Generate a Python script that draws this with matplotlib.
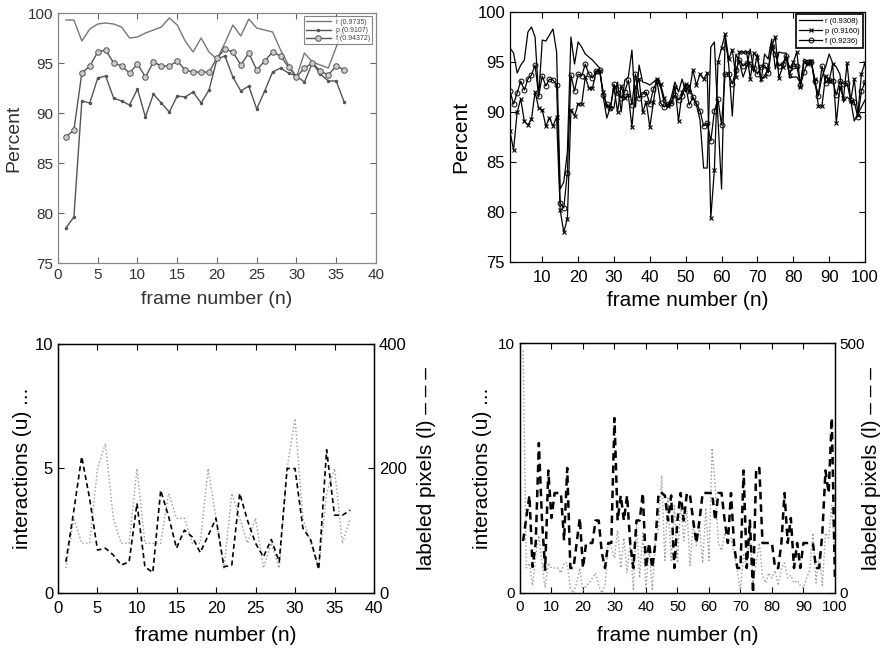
import numpy as np
import matplotlib
matplotlib.use("Agg")
import matplotlib.pyplot as plt

plt.rcParams['font.family'] = ['Liberation Sans', 'DejaVu Sans']

# ---- top left: r / p / f per frame (36 frames) ----
tl_frames = list(range(1, 37))
tl_r = [99.3, 99.3, 97.2, 98.4, 98.9, 99.0, 98.9, 98.6, 97.5, 97.6, 98.0, 98.3,
        98.6, 99.5, 98.8, 97.2, 96.1, 97.5, 96.1, 95.4, 97.0, 98.8, 97.7, 99.4,
        98.5, 98.3, 98.1, 96.3, 94.8, 93.6, 96.0, 95.1, 94.8, 94.5, 96.6, 98.8]
tl_p = [78.5, 79.6, 91.2, 91.0, 93.5, 93.7, 91.5, 91.2, 90.8, 92.4, 89.6, 91.9,
        91.0, 90.1, 91.7, 91.6, 92.1, 91.0, 92.3, 95.4, 95.7, 93.6, 92.2, 92.7,
        90.4, 92.2, 94.1, 94.5, 94.0, 93.7, 93.1, 95.0, 93.9, 93.2, 93.2, 91.1]
tl_f = [87.6, 88.3, 94.0, 94.7, 96.1, 96.3, 95.0, 94.7, 94.0, 94.9, 93.6, 95.1,
        94.7, 94.7, 95.2, 94.3, 94.1, 94.1, 94.1, 95.5, 96.4, 96.1, 94.8, 96.0,
        94.3, 95.2, 96.1, 95.7, 94.6, 93.6, 94.5, 95.0, 94.2, 93.8, 94.7, 94.3]
tl_labels = ['r (0.9735)', 'p (0.9107)', 'f (0.94372)']

# ---- top right: r / p / f per frame (100 frames) ----
tr_frames = list(range(1, 101))
tr_r = [96.4, 95.9, 93.9, 94.7, 95.2, 98.0, 98.5, 97.5, 91.5, 97.2,
        97.1, 97.7, 98.3, 96.0, 82.3, 83.0, 86.0, 97.5, 94.8, 97.0,
        96.5, 95.8, 95.5, 95.2, 94.8, 94.4, 91.5, 89.4, 90.5, 90.4,
        93.0, 90.0, 93.2, 93.5, 96.2, 90.5, 94.7, 93.0, 92.9, 92.7,
        93.0, 93.3, 92.5, 91.0, 90.5, 91.5, 93.0, 92.0, 93.3, 92.0,
        92.7, 91.5, 90.7, 89.2, 84.4, 84.4, 96.5, 97.0, 89.3, 82.3,
        97.5, 94.7, 89.6, 95.8, 95.0, 93.5, 94.5, 96.3, 94.0, 95.8,
        93.0, 95.8, 95.3, 97.3, 94.3, 96.0, 95.9, 95.9, 93.4, 93.5,
        93.5, 92.9, 95.3, 95.1, 95.2, 92.8, 91.7, 93.5, 94.5, 95.8,
        94.9, 94.5, 93.8, 91.0, 91.5, 91.2, 89.1, 89.8, 90.5, 91.2]
tr_p = [88.1, 86.2, 90.0, 91.3, 89.1, 88.7, 89.3, 92.0, 90.4, 90.2,
        88.6, 89.4, 88.6, 89.5, 80.2, 78.0, 79.3, 90.2, 89.6, 90.8,
        90.8, 93.5, 92.4, 92.4, 94.0, 94.1, 92.0, 90.6, 90.4, 92.5,
        90.0, 92.6, 91.4, 91.7, 88.5, 92.5, 93.3, 90.0, 91.0, 88.5,
        91.0, 93.3, 92.8, 91.4, 90.6, 91.0, 92.5, 89.1, 92.0, 92.8,
        92.0, 94.2, 92.7, 93.8, 93.3, 93.9, 79.4, 84.2, 95.0, 96.4,
        97.8, 95.3, 96.2, 93.5, 96.0, 96.0, 96.0, 93.3, 95.9, 95.5,
        93.3, 93.6, 94.3, 96.6, 97.5, 93.4, 94.5, 95.4, 93.7, 95.0,
        96.0, 92.5, 95.0, 94.8, 95.1, 93.3, 90.6, 90.6, 93.6, 93.1,
        94.8, 88.9, 92.5, 91.4, 94.9, 91.1, 93.3, 89.7, 93.8, 94.9]
tr_f = [92.1, 90.8, 91.9, 93.1, 92.2, 93.3, 93.7, 94.7, 91.6, 93.6,
        92.6, 93.3, 93.2, 92.7, 80.9, 80.4, 83.9, 93.7, 92.1, 93.8,
        93.6, 94.8, 93.8, 93.4, 94.1, 94.2, 91.7, 90.8, 90.4, 92.8,
        91.9, 91.4, 92.0, 93.2, 90.7, 93.8, 91.4, 91.8, 92.0, 90.8,
        92.3, 93.1, 90.9, 90.5, 90.8, 90.9, 91.7, 91.2, 91.6, 92.6,
        90.7, 91.5, 90.9, 90.1, 88.6, 88.9, 87.1, 90.1, 91.3, 88.7,
        93.8, 93.8, 92.8, 94.2, 95.2, 94.6, 94.9, 94.8, 94.4, 93.8,
        94.5, 94.7, 93.9, 96.5, 95.8, 94.6, 94.8, 95.6, 94.4, 94.6,
        94.6, 92.7, 94.0, 95.0, 95.0, 93.1, 91.6, 94.6, 92.9, 93.2,
        93.1, 91.7, 93.1, 92.8, 92.9, 91.2, 91.0, 89.5, 92.1, 93.0]
tr_labels = ['r (0.9308)', 'p (0.9160)', 'f (0.9236)']

# ---- bottom left: interactions u and labeled pixels l (37 frames) ----
bl_frames = list(range(1, 38))
bl_u = [1, 3, 2, 2, 5, 6, 3, 2, 2, 5, 2, 2, 2, 4, 3, 3, 2, 2, 5, 3,
        1, 4, 3, 2, 3, 1, 2, 1, 5, 7, 3, 2, 1, 4, 5, 2, 3]
bl_l = [50, 132, 219, 152, 69, 72, 61, 45, 50, 144, 42, 33, 165, 123, 72, 101,
        90, 65, 92, 120, 42, 45, 160, 116, 80, 58, 86, 50, 200, 200, 104, 85,
        38, 230, 125, 125, 133]

# ---- bottom right: interactions u and labeled pixels l (100 frames) ----
br_frames = list(range(1, 101))
br_u = [9.7, 1.0, 1.2, 0.3, 1.5, 2.3, 1.2, 0.2, 1.2, 1.0,
        1.0, 1.0, 0.8, 1.2, 1.2, 0.2, 0.0, 0.4, 1.0, 0.1,
        0.3, 0.4, 0.6, 0.8, 0.3, 0.0, 0.3, 2.0, 1.8, 1.4,
        2.5, 1.0, 2.2, 0.8, 2.0, 0.1, 2.8, 0.6, 2.4, 0.2,
        1.8, 0.1, 2.0, 2.6, 4.7, 1.3, 3.8, 1.3, 3.5, 1.2,
        3.6, 2.1, 3.3, 1.1, 2.8, 1.9, 2.7, 1.2, 3.4, 1.3,
        5.8, 4.2, 2.0, 1.7, 2.4, 2.0, 2.2, 1.6, 0.9, 0.1,
        1.6, 1.0, 2.6, 0.4, 1.2, 2.0, 0.7, 0.4, 0.8, 0.6,
        0.9, 0.3, 1.0, 1.2, 0.6, 0.7, 0.4, 0.5, 0.3, 0.2,
        0.6, 0.9, 2.4, 0.4, 1.6, 0.3, 2.4, 2.2, 3.5, 1.4]
br_l = [104, 150, 195, 52, 100, 300, 145, 46, 245, 150,
        200, 200, 200, 105, 250, 50, 50, 100, 150, 50,
        100, 100, 100, 145, 145, 80, 50, 100, 100, 350,
        145, 195, 145, 195, 100, 50, 145, 145, 200, 50,
        100, 50, 100, 200, 200, 195, 145, 195, 50, 145,
        200, 145, 200, 195, 145, 100, 145, 200, 200, 200,
        200, 145, 200, 200, 145, 100, 200, 95, 50, 50,
        245, 50, 145, 0, 250, 250, 100, 100, 100, 100,
        50, 50, 100, 200, 100, 150, 50, 100, 50, 100,
        100, 100, 100, 50, 50, 120, 245, 200, 350, 25]

fig = plt.figure(figsize=(8.84, 6.51), dpi=100)


def style_ax(ax, size=11):
    ax.tick_params(direction='in', top=True, right=True, labelsize=size,
                   length=4, width=0.8)
    for s in ax.spines.values():
        s.set_linewidth(0.9)


# top left (faded scan look)
grey = '#555555'
ax1 = fig.add_axes([0.0656, 0.596, 0.3597, 0.384])
ax1.plot(tl_frames, tl_r, '-', color='#777777', lw=1.0, label=tl_labels[0])
ax1.plot(tl_frames, tl_p, '-', color=grey, lw=1.0, marker='.', ms=3,
         label=tl_labels[1])
ax1.plot(tl_frames, tl_f, '-', color=grey, lw=1.0, marker='o', ms=4,
         mfc='#cccccc', mec=grey, mew=0.7, label=tl_labels[2])
ax1.set_xlim(0, 40)
ax1.set_ylim(75, 100)
ax1.set_xticks(range(0, 41, 5))
ax1.set_yticks(range(75, 101, 5))
style_ax(ax1, 11)
ax1.tick_params(colors='#666666', labelcolor='#333333')
for s in ax1.spines.values():
    s.set_color('#888888')
ax1.set_xlabel('frame number (n)', fontsize=14, color='#333333')
ax1.set_ylabel('Percent', fontsize=14, color='#333333')
ax1.xaxis.set_label_coords(0.5, -0.112)
ax1.yaxis.set_label_coords(-0.113, 0.5)
leg = ax1.legend(loc='upper right', fontsize=5, frameon=True, fancybox=False,
                 handlelength=3.5, borderpad=0.3, labelspacing=0.2)
leg.get_frame().set_edgecolor('#666666')
leg.get_frame().set_linewidth(0.8)
for t in leg.get_texts():
    t.set_color('#444444')

# top right
ax2 = fig.add_axes([0.5769, 0.5975, 0.4016, 0.384])
ax2.plot(tr_frames, tr_r, '-', color='black', lw=0.9, label=tr_labels[0])
ax2.plot(tr_frames, tr_p, '-', color='black', lw=0.9, marker='x', ms=2.5,
         mew=0.8, label=tr_labels[1])
ax2.plot(tr_frames, tr_f, '-', color='black', lw=0.9, marker='o', ms=3.5,
         mfc='none', mew=0.7, label=tr_labels[2])
ax2.set_xlim(1, 100)
ax2.set_ylim(75, 100)
ax2.set_xticks(range(10, 101, 10))
ax2.set_yticks(range(75, 101, 5))
style_ax(ax2, 12)
ax2.tick_params(axis='x', pad=6)
ax2.set_xlabel('frame number (n)', fontsize=15)
ax2.set_ylabel('Percent', fontsize=15)
ax2.xaxis.set_label_coords(0.5, -0.116)
ax2.yaxis.set_label_coords(-0.113, 0.5)
leg = ax2.legend(loc='upper right', fontsize=5.5, frameon=True, fancybox=False,
                 handlelength=3.0, borderpad=0.4, labelspacing=0.35,
                 handletextpad=0.4, borderaxespad=0.3)
leg.get_frame().set_edgecolor('black')
leg.get_frame().set_linewidth(1.2)
leg.get_frame().set_alpha(1)


def twin_panel(rect, frames, u, l, xmax, xstep, yticks_l, lmax, yticks_r,
               dash_lw, tsize, xpad, lx_left, lx_right):
    ax = fig.add_axes(rect)
    ax.plot(frames, u, ':', color='#999999', lw=1.0)
    ax.set_xlim(0, xmax)
    ax.set_ylim(0, 10)
    ax.set_xticks(range(0, xmax + 1, xstep))
    ax.set_yticks(yticks_l)
    ax.tick_params(direction='in', top=True, labelsize=tsize, length=4,
                   width=0.8)
    ax.tick_params(axis='x', pad=xpad)
    ax.set_xlabel('frame number (n)', fontsize=15)
    ax.set_ylabel('interactions (u) ...', fontsize=15)
    ax.xaxis.set_label_coords(0.5, -0.133)
    ax.yaxis.set_label_coords(lx_left, 0.5)
    axr = ax.twinx()
    axr.plot(frames, l, '--', color='black', lw=dash_lw, dashes=(3, 2))
    axr.set_ylim(0, lmax)
    axr.set_yticks(yticks_r)
    axr.tick_params(direction='in', labelsize=tsize, length=4, width=0.8)
    axr.set_ylabel('labeled pixels (l) \u2013 \u2013 \u2013', fontsize=15)
    axr.yaxis.set_label_coords(lx_right, 0.5)
    for s in list(ax.spines.values()) + list(axr.spines.values()):
        s.set_linewidth(0.9)
    return ax, axr


twin_panel([0.0656, 0.0891, 0.3575, 0.3825], bl_frames, bl_u, bl_l,
           40, 5, [0, 5, 10], 400, [0, 200, 400], 1.2, 12, 6, -0.082, 1.136)
twin_panel([0.5882, 0.0891, 0.3563, 0.384], br_frames, br_u, br_l,
           100, 10, [0, 10], 500, [0, 500], 1.8, 11, 5, -0.089, 1.086)

fig.savefig('out.png', dpi=100)
